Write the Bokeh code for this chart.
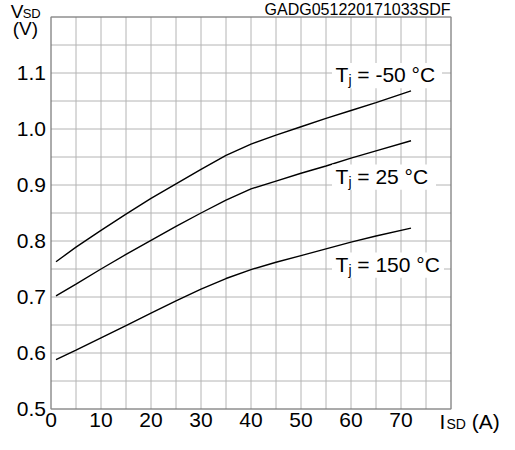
from bokeh.plotting import figure
from bokeh.models import Range1d, FixedTicker, PrintfTickFormatter, Label, BoxAnnotation
from bokeh.embed import file_html
from bokeh.resources import INLINE

# ---- data ----
I_SD = [1, 5, 10, 15, 20, 25, 30, 35, 40, 45, 50, 55, 60, 65, 72]
V_m50 = [0.763, 0.789, 0.819, 0.848, 0.876, 0.902, 0.928, 0.953, 0.973, 0.989, 1.004, 1.019, 1.033, 1.047, 1.068]
V_25 = [0.702, 0.723, 0.750, 0.776, 0.801, 0.826, 0.850, 0.873, 0.893, 0.907, 0.921, 0.934, 0.948, 0.961, 0.979]
V_150 = [0.588, 0.605, 0.627, 0.649, 0.671, 0.693, 0.714, 0.733, 0.749, 0.762, 0.774, 0.786, 0.798, 0.809, 0.823]

X_TICKS = [0, 10, 20, 30, 40, 50, 60, 70]
Y_TICKS = [0.5, 0.6, 0.7, 0.8, 0.9, 1.0, 1.1]
X_GRID = [0, 5, 10, 15, 20, 25, 30, 35, 40, 45, 50, 55, 60, 65, 70, 75, 80]
Y_GRID = [0.5, 0.55, 0.6, 0.65, 0.7, 0.75, 0.8, 0.85, 0.9, 0.95, 1.0, 1.05, 1.1, 1.15, 1.2]
X_MIN, X_MAX = 0, 80
Y_MIN, Y_MAX = 0.5, 1.2

CURVE_TEMPS = ["-50", "25", "150"]
CURVE_LABEL_X = 56.9
CURVE_LABEL_Y = [1.0838, 0.9024, 0.7454]
CURVE_BOX_RIGHT = [78.2, 77.0, 78.6]

TITLE = "GADG051220171033SDF"
FONT = "Liberation Sans"

# the frame fills the whole canvas; the chart box [0,80]x[0.5,1.2] sits inside it
W, H = 499, 434
PX_X = 5.0            # pixels per ampere
PX_Y = 392 / 0.7      # pixels per volt
LEFT, BOTTOM = 50.5, 25.5
x_range = Range1d(-LEFT / PX_X, (W - LEFT) / PX_X)
y_range = Range1d(Y_MIN - BOTTOM / PX_Y, Y_MIN + (H - BOTTOM) / PX_Y)

p = figure(width=W, height=H, x_range=x_range, y_range=y_range,
           output_backend="svg", toolbar_location=None,
           min_border_left=0, min_border_right=0, min_border_top=0, min_border_bottom=0)
p.background_fill_color = "white"
p.border_fill_color = "white"
p.outline_line_color = None
p.xgrid.visible = False
p.ygrid.visible = False

# grid lines restricted to the chart box
p.segment(x0=X_GRID, y0=[Y_MIN] * len(X_GRID), x1=X_GRID, y1=[Y_MAX] * len(X_GRID),
          line_color="#b4b4b4", line_width=1)
p.segment(x0=[X_MIN] * len(Y_GRID), y0=Y_GRID, x1=[X_MAX] * len(Y_GRID), y1=Y_GRID,
          line_color="#b4b4b4", line_width=1)

# axes fixed on the chart box edges
p.xaxis.fixed_location = Y_MIN
p.yaxis.fixed_location = X_MIN
p.xaxis.ticker = FixedTicker(ticks=X_TICKS)
p.yaxis.ticker = FixedTicker(ticks=Y_TICKS)
p.yaxis.formatter = PrintfTickFormatter(format="%.1f")
for ax in (p.xaxis, p.yaxis):
    ax.axis_line_color = None
    ax.major_tick_line_color = None
    ax.minor_tick_line_color = None
    ax.major_tick_out = 0
    ax.major_tick_in = 0
    ax.minor_tick_out = 0
    ax.minor_tick_in = 0
    ax.major_label_text_font = FONT
    ax.major_label_text_font_size = "21px"
    ax.major_label_text_color = "black"
p.xaxis.major_label_standoff = 4
p.yaxis.major_label_standoff = 5

for ys in (V_m50, V_25, V_150):
    p.line(I_SD, ys, line_color="black", line_width=1.4)

# white boxes behind the curve labels
for yb, xr in zip(CURVE_LABEL_Y, CURVE_BOX_RIGHT):
    p.add_layout(BoxAnnotation(left=CURVE_LABEL_X - 0.7, right=xr, bottom=yb - 0.011, top=yb + 0.034,
                               fill_color="white", fill_alpha=1, line_color=None))

# chart box outline
p.add_layout(BoxAnnotation(left=X_MIN, right=X_MAX, bottom=Y_MIN, top=Y_MAX,
                           fill_color=None, fill_alpha=0, line_color="#111111", line_width=1.5))


def lab(text, x, y, xo, yo, size, align="left"):
    # Label's box is centred on its anchor; shift so that (x, y) is the text baseline
    px = float(size.replace("px", ""))
    p.add_layout(Label(x=x, y=y, x_offset=xo, y_offset=yo + 0.345 * px, text=text, text_font=FONT,
                       text_font_size=size, text_align=align, text_baseline="alphabetic",
                       text_color="black"))


# curve labels
for t, yb in zip(CURVE_TEMPS, CURVE_LABEL_Y):
    lab("T", CURVE_LABEL_X, yb, 0, 0, "21px")
    lab("j", CURVE_LABEL_X, yb, 13, -3, "14px")
    lab("= " + t + " °C", CURVE_LABEL_X, yb, 21.8, 0, "21px")

# title
lab(TITLE, X_MAX, Y_MAX, -0.5, 1.7, "16px", align="right")
# y axis title
lab("V", X_MIN, Y_MAX, -40.3, -1, "19px")
lab("SD", X_MIN, Y_MAX, -28.3, -1, "13px")
lab("(V)", X_MIN, Y_MAX, -38.3, -17.7, "19px")
# x axis title
lab("I", X_MAX, Y_MIN, -11.5, -19.5, "21px")
lab("SD", X_MAX, Y_MIN, -4.5, -19.5, "14px")
lab("(A)", X_MAX, Y_MIN, 20.8, -19.5, "21px")

open("out.html", "w").write(file_html(p, INLINE))
